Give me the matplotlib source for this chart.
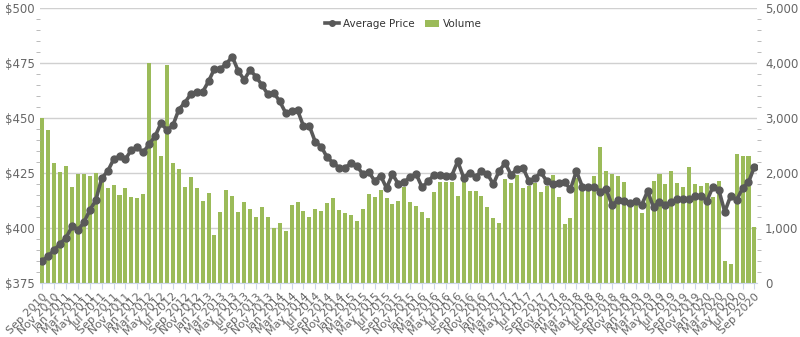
import numpy as np
import pandas as pd
import matplotlib
matplotlib.use('Agg')
import matplotlib.pyplot as plt
from matplotlib.ticker import MultipleLocator, FuncFormatter

# 月份类别 Sep 2010 - Sep 2020
months = pd.date_range('2010-09-01', periods=121, freq='MS')
month_labels = [m.strftime('%b %Y') for m in months]

avg_price = [
    385.0, 387.4, 390.0, 392.9, 395.6, 400.8, 399.1, 402.6, 408.2, 412.6,
    422.7, 425.8, 431.2, 432.7, 431.4, 435.5, 436.7, 434.4, 438.2, 441.8,
    447.7, 444.5, 446.7, 453.9, 457.0, 460.8, 461.8, 461.8, 466.7, 472.4,
    472.4, 474.7, 477.9, 471.5, 467.4, 471.8, 468.9, 465.0, 460.8, 461.5,
    457.6, 452.4, 453.2, 453.6, 446.4, 446.4, 439.1, 437.0, 432.1, 429.7,
    427.4, 427.4, 429.4, 428.3, 424.5, 425.6, 421.4, 423.8, 418.2, 424.5,
    420.0, 420.9, 423.3, 424.5, 418.5, 421.2, 424.1, 424.1, 423.9, 423.9,
    430.3, 422.9, 425.2, 423.3, 425.8, 424.5, 420.0, 426.1, 429.5, 424.2,
    426.9, 427.4, 421.4, 422.6, 425.3, 421.4, 420.0, 420.6, 420.9, 417.7,
    425.9, 418.8, 418.8, 418.8, 416.5, 417.9, 410.3, 412.7, 412.1, 411.2,
    412.1, 410.5, 416.8, 409.4, 412.0, 410.5, 412.0, 413.0, 413.0, 413.2,
    414.5, 414.5, 412.4, 418.8, 417.3, 407.4, 414.7, 412.7, 418.2, 420.8,
    427.9]

volume = [
    3000, 2776, 2188, 2018, 2127, 1745, 1976, 1976, 1945, 2000,
    1940, 1727, 1776, 1606, 1727, 1564, 1551, 1612, 4010, 2650,
    2310, 3970, 2180, 2070, 1750, 1930, 1730, 1490, 1630, 870,
    1300, 1685, 1590, 1300, 1470, 1345, 1210, 1380, 1195, 995,
    1085, 952, 1418, 1479, 1315, 1194, 1345, 1309, 1461, 1552,
    1327, 1279, 1236, 1133, 1339, 1618, 1564, 1691, 1552, 1430,
    1497, 1752, 1467, 1406, 1285, 1188, 1648, 1836, 1836, 1836,
    1576, 1836, 1667, 1673, 1588, 1376, 1176, 1085, 1897, 1824,
    1964, 1733, 1764, 1824, 1661, 1764, 1958, 1564, 1073, 1176,
    1903, 1752, 1752, 1945, 2479, 2030, 1976, 1945, 1830, 1509,
    1460, 1267, 1673, 1855, 1988, 1800, 2036, 1824, 1752, 2115,
    1800, 1764, 1824, 1570, 1855, 400, 339, 2345, 2309, 2309,
    1012]

green = '#9bbb59'
dark = '#595959'
grey_txt = '#666666'

fig = plt.figure(figsize=(8, 3.37), dpi=100)
ax = fig.add_axes([0.05, 0.16, 0.896, 0.816])
x = np.arange(len(months))

# 柱状图 (Volume) 放在底层的轴上
bars = ax.bar(x, volume, width=0.68, color=green, zorder=2)
ax.set_ylim(0, 5000)
ax.set_xlim(-0.4, 120.4)

# 折线 (Average Price) 在上层
ax2 = ax.twinx()
line, = ax2.plot(x, avg_price, color=dark, linewidth=2.6, marker='o', markersize=5, zorder=3)
ax2.set_ylim(375, 500)

# twinx() 会把原轴的刻度放回左边, 所以在这之后再设置
ax.yaxis.set_ticks_position('right')
ax.tick_params(axis='y', which='both', left=False, labelleft=False, right=True, labelright=True)
ax.yaxis.set_major_locator(MultipleLocator(1000))
ax.yaxis.set_minor_locator(MultipleLocator(200))
ax.yaxis.set_major_formatter(FuncFormatter(lambda v, p: '{:,.0f}'.format(v)))
ax.grid(axis='y', color='#d0d0d0', linewidth=1, zorder=0)
ax.tick_params(axis='y', which='major', length=0, labelsize=8.5, labelcolor=grey_txt, pad=6)
ax.tick_params(axis='y', which='minor', length=3, color='#b0b0b0')

ax.set_xticks(x[::2])
ax.set_xticklabels(month_labels[::2], rotation=45, ha='right', rotation_mode='anchor',
                   fontsize=8, color=grey_txt)
ax.tick_params(axis='x', length=4, color='#ccd6eb', pad=2)
for s in ['top', 'left', 'right']:
    ax.spines[s].set_visible(False)
ax.spines['bottom'].set_color('#ccd6eb')

ax2.yaxis.set_ticks_position('left')
ax2.tick_params(axis='y', which='both', left=True, labelleft=True, right=False, labelright=False)
ax2.yaxis.set_major_locator(MultipleLocator(25))
ax2.yaxis.set_minor_locator(MultipleLocator(5))
ax2.yaxis.set_major_formatter(FuncFormatter(lambda v, p: '${:.0f}'.format(v)))
ax2.tick_params(axis='y', which='major', length=0, labelsize=8.5, labelcolor=grey_txt, pad=4)
ax2.tick_params(axis='y', which='minor', length=3, color='#b0b0b0')
for s in ['top', 'left', 'right', 'bottom']:
    ax2.spines[s].set_visible(False)

leg = ax2.legend([line, bars], ['Average Price', 'Volume'], loc='upper center',
                 bbox_to_anchor=(0.507, 0.995), ncol=2, frameon=False, fontsize=7.5,
                 handlelength=1.3, columnspacing=1.0, handletextpad=0.4, markerscale=0.8)
for t in leg.get_texts():
    t.set_color('#333333')

fig.savefig('out.png', dpi=100)
